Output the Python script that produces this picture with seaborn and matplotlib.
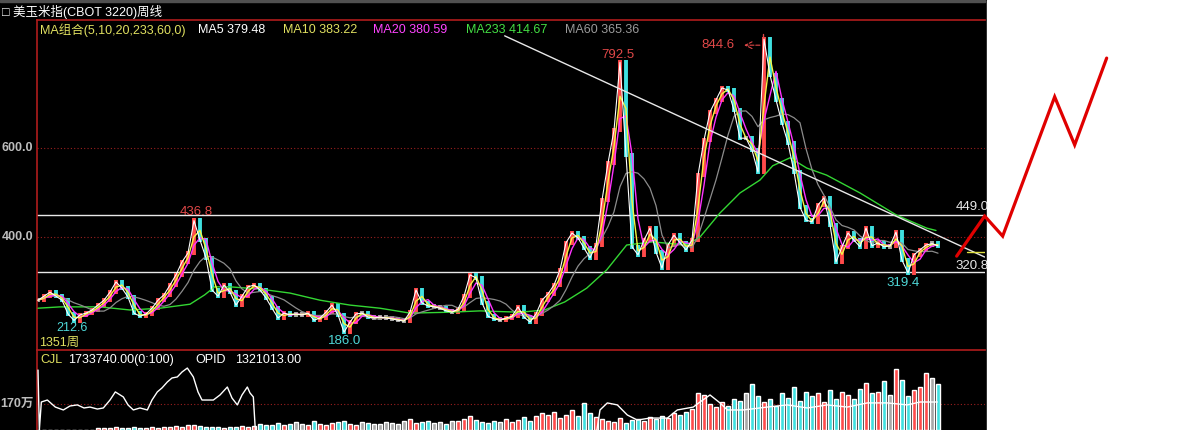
import numpy as np
import pandas as pd
import seaborn as sns
import matplotlib.pyplot as plt
from matplotlib.patches import Rectangle
import matplotlib.transforms as mtrans

sns.set_theme(style="dark", rc={"axes.facecolor": "black", "figure.facecolor": "black"})
plt.rcParams['font.family'] = ['Liberation Sans', 'Noto Sans CJK SC', 'DejaVu Sans']

# === 数据：周线收盘价（每 9 周取一点，共 1351 周）===
close = [258, 267, 276, 267, 258, 227, 212.6, 225, 229, 236,
         247, 258, 276, 299, 285, 265, 229, 222, 227, 240,
         258, 270, 292, 315, 344, 364, 436.8, 393, 353, 281,
         267, 292, 276, 247, 267, 288, 292, 281, 263, 240,
         218, 229, 225, 227, 225, 229, 213, 218, 231, 247,
         225, 186, 209, 227, 229, 220, 218, 220, 218, 216,
         213, 211, 231, 281, 252, 245, 243, 240, 234, 231,
         238, 267, 315, 308, 252, 222, 216, 213, 218, 222,
         243, 220, 209, 227, 258, 272, 292, 326, 387, 409,
         398, 375, 353, 382, 483, 566, 640, 792.5, 584, 378,
         360, 393, 420, 366, 330, 382, 404, 387, 371, 393,
         539, 618, 681, 708, 735, 730, 685, 622, 622, 595,
         546, 844.6, 764, 708, 656, 611, 546, 467, 438, 434,
         472, 488, 427, 344, 378, 409, 393, 378, 420, 380,
         387, 378, 380, 411, 348, 319.4, 360, 371, 382, 385,
         380]

# 成交量（万手）
volume = [0, 0, 0, 0, 0, 0, 0, 0, 0, 0,
          10, 14, 12, 18, 15, 12, 20, 16, 14, 18,
          15, 20, 22, 25, 18, 30, 35, 28, 22, 18,
          20, 16, 22, 18, 25, 20, 28, 40, 30, 35,
          45, 30, 38, 52, 40, 35, 60, 42, 30, 48,
          55, 62, 40, 35, 50, 45, 38, 42, 55, 48,
          40, 58, 70, 45, 52, 60, 48, 55, 42, 62,
          58, 75, 90, 65, 50, 45, 60, 52, 70, 55,
          68, 85, 60, 90, 110, 95, 120, 80, 100, 130,
          90, 175, 110, 85, 70, 60, 55, 80, 45, 65,
          70, 60, 85, 75, 90, 80, 110, 95, 120, 140,
          240, 230, 170, 150, 180, 160, 200, 190, 240, 300,
          220, 180, 200, 160, 240, 210, 280, 190, 250, 220,
          240, 180, 260, 200, 250, 230, 200, 270, 310, 240,
          250, 320, 230, 400, 330, 220, 260, 280, 370, 340,
          300]

# MA233（绿线）
ma233_wk = [0, 33, 93, 138, 183, 228, 250, 265, 288, 333, 378, 423, 468, 513, 558,
            618, 663, 723, 760, 790, 823, 853, 883, 922, 973, 993, 1023, 1053, 1083,
            1102, 1128, 1153, 1183, 1233, 1288, 1333, 1347]
ma233 = [240, 243, 243, 236, 240, 249, 270, 288, 288, 283, 274, 258, 247, 240, 229,
         231, 234, 231, 236, 254, 285, 326, 382, 389, 382, 400, 454, 499, 528,
         560, 578, 555, 539, 499, 449, 420, 414.67]

# 持仓量 OPID（白线，万）
oi_wk = [0, 2, 5, 14, 26, 38, 48, 59, 69, 78, 89, 98, 108, 116, 128, 135, 143, 153, 164, 171,
         179, 186, 194, 201, 209, 216, 224, 228, 233, 240, 246, 255, 263, 273, 284, 291, 299,
         306, 314, 318, 323, 326, 327, 836, 843, 854, 869, 884, 899, 918, 944, 959, 983, 993,
         1008, 1023, 1034, 1058, 1094, 1124, 1154, 1184, 1214, 1244, 1274, 1304, 1323, 1349]
oi = [392, 0, 183, 196, 150, 131, 157, 164, 144, 150, 137, 144, 196, 249, 216, 164, 131, 144,
      131, 196, 249, 275, 314, 340, 347, 379, 405, 379, 347, 249, 196, 196, 196, 229, 281, 209,
      164, 229, 281, 242, 216, 0, -65, -65, 131, 177, 164, 98, 65, 78, 78, 131, 150, 183, 229,
      177, 131, 131, 150, 164, 144, 164, 150, 177, 177, 164, 183, 183]

# 趋势线、手绘预测线
trend_wk = [700, 1420]
trend_px = [852, 355]
fcst_wk = [1378, 1420, 1447, 1525, 1555, 1603]
fcst_px = [357, 447, 402, 715, 607, 802]
levels = [449.0, 320.8]

df = pd.DataFrame({"week": np.arange(len(close)) * 9, "close": close, "vol": volume})
df["prev"] = df["close"].shift(1).fillna(df["close"])
df["ma10"] = df["close"].rolling(2, min_periods=1).mean()
df["ma20"] = df["close"].rolling(3, min_periods=1).mean()
df["ma60"] = df["close"].rolling(7, min_periods=1).mean()
chg = df["close"] - df["prev"]
df["color"] = np.where(chg > 3, "#ff4a4a", np.where(chg < -3, "#3fe0e0", "#a8a8a8"))

W, H = 1186, 430
fig = plt.figure(figsize=(W / 100, H / 100), dpi=100, facecolor="black")
fig.patches.append(Rectangle((987 / W, 0), 1, 1, transform=fig.transFigure,
                             color="white", zorder=-1))
fig.patches.append(Rectangle((0, 1 - 2 / H), 985 / W, 2 / H, transform=fig.transFigure,
                             color="#505050", zorder=-1))

xl = (-1.5, 1420.5)
ax = fig.add_axes([37 / W, 80 / H, 948 / W, 330 / H], facecolor="black")
ax2 = fig.add_axes([37 / W, 0, 948 / W, 80 / H], facecolor="black")
red = "#b01c1c"
for a in (ax, ax2):
    a.set_xlim(*xl)
    a.set_xticks([])
    a.set_yticks([])
    a.grid(False)
    for s in a.spines.values():
        s.set_visible(False)
    a.spines["left"].set_visible(True)
    a.spines["left"].set_color(red)
    a.spines["top"].set_visible(True)
    a.spines["top"].set_color(red)
    a.spines["left"].set_linewidth(1.2)
    a.spines["top"].set_linewidth(1.2)
ax.set_ylim(146.1, 887.6)
ax2.set_ylim(0, 523)

# 网格、水平线
for v in (600, 400):
    ax.axhline(v, color="#9a1f1f", lw=0.8, ls=(0, (1, 2)))
for v in levels:
    ax.axhline(v, color="#e8e8e8", lw=1.0)

# K 线
lo = np.minimum(df["prev"], df["close"]) - 5
hi = np.maximum(df["prev"], df["close"]) + 5
ax.vlines(df["week"], lo, hi, colors=df["color"], lw=2.8, zorder=2)

sns.lineplot(x=ma233_wk, y=ma233, color="#33d633", lw=1.0, ax=ax, zorder=3)
sns.lineplot(data=df, x="week", y="ma60", color="#8c8c8c", lw=0.9, ax=ax, zorder=3)
sns.lineplot(data=df, x="week", y="ma20", color="#ff33ff", lw=1.0, ax=ax, zorder=4)
sns.lineplot(data=df, x="week", y="ma10", color="#f5f542", lw=1.0, ax=ax, zorder=4)
sns.lineplot(data=df, x="week", y="close", color="white", lw=0.8, ax=ax, zorder=5)
ax.set_xlabel("")
ax.set_ylabel("")

ax.plot(trend_wk, trend_px, color="#e8e8e8", lw=1.0, zorder=5)
ax.plot([1393, 1420], [366, 366], color="#e0e040", lw=1.0, zorder=5)
ax.plot(fcst_wk, fcst_px, color="#e00000", lw=2.3, clip_on=False, zorder=10,
        solid_joinstyle="miter")

# 价格标注
lab = dict(fontsize=9.5, ha="center", va="center")
ax.text(237, 456, "436.8", color="#e04848", **lab)
ax.text(870, 809, "792.5", color="#e04848", **lab)
ax.text(1020, 831, "844.6", color="#e04848", **lab)
ax.annotate("", xy=(1055, 831), xytext=(1087, 831),
            arrowprops=dict(arrowstyle="->", color="#e04848", lw=0.8, ls="--"))
ax.plot([1087, 1087], [825, 857], color="#e04848", lw=1.0)
ax.text(51, 196, "212.6", color="#4fd8d8", fontsize=9, ha="center", va="center")
ax.text(460, 166, "186.0", color="#4fd8d8", **lab)
ax.text(1297, 297, "319.4", color="#4fd8d8", **lab)
ax.text(2, 163, "1351周", color="#e0e060", fontsize=9, ha="left", va="center")
tr = mtrans.blended_transform_factory(ax.transAxes, ax.transData)
ax.text(1.004, 467, "449.0", color="#e8e8e8", fontsize=9.5, ha="right", va="center",
        transform=tr, clip_on=False)
ax.text(1.004, 335, "320.8", color="#e8e8e8", fontsize=9.5, ha="right", va="center",
        transform=tr, clip_on=False)
for v in (600, 400):
    ax.text(-0.004, v, f"{v:.1f}", color="#bdbdbd", fontsize=9, fontweight="bold",
            ha="right", va="center", transform=tr)

# 成交量、持仓量
ax2.axhline(170, color="#9a1f1f", lw=0.8, ls=(0, (1, 2)))
ax2.bar(df["week"], df["vol"], width=6, color=df["color"], zorder=2)
sns.lineplot(x=oi_wk, y=oi, color="white", lw=1.0, ax=ax2, zorder=3)
ax2.set_xlabel("")
ax2.set_ylabel("")
tr2 = mtrans.blended_transform_factory(ax2.transAxes, ax2.transData)
ax2.text(-0.004, 170, "170万", color="#bdbdbd", fontsize=9, fontweight="bold",
         ha="right", va="center", transform=tr2)

# 顶部文字
ty = 1 - 12 / H
fig.text(2 / W, ty, "□ 美玉米指(CBOT 3220)周线", color="white", fontsize=9, va="center")
ly = 1 - 30 / H
for x, s, c in [(40, "MA组合(5,10,20,233,60,0)", "#e0e060"),
                (198, "MA5 379.48", "white"),
                (283, "MA10 383.22", "#e0e060"),
                (373, "MA20 380.59", "#ff44ff"),
                (466, "MA233 414.67", "#44e044"),
                (565, "MA60 365.36", "#9a9a9a")]:
    fig.text(x / W, ly, s, color=c, fontsize=9, va="center")
vy = 1 - 360 / H
for x, s, c in [(40, "CJL", "#e0e060"),
                (68, "1733740.00(0:100)", "white"),
                (195, "OPID", "white"),
                (235, "1321013.00", "white")]:
    fig.text(x / W, vy, s, color=c, fontsize=9, va="center")

plt.savefig("out.png", dpi=100, facecolor=fig.get_facecolor())
